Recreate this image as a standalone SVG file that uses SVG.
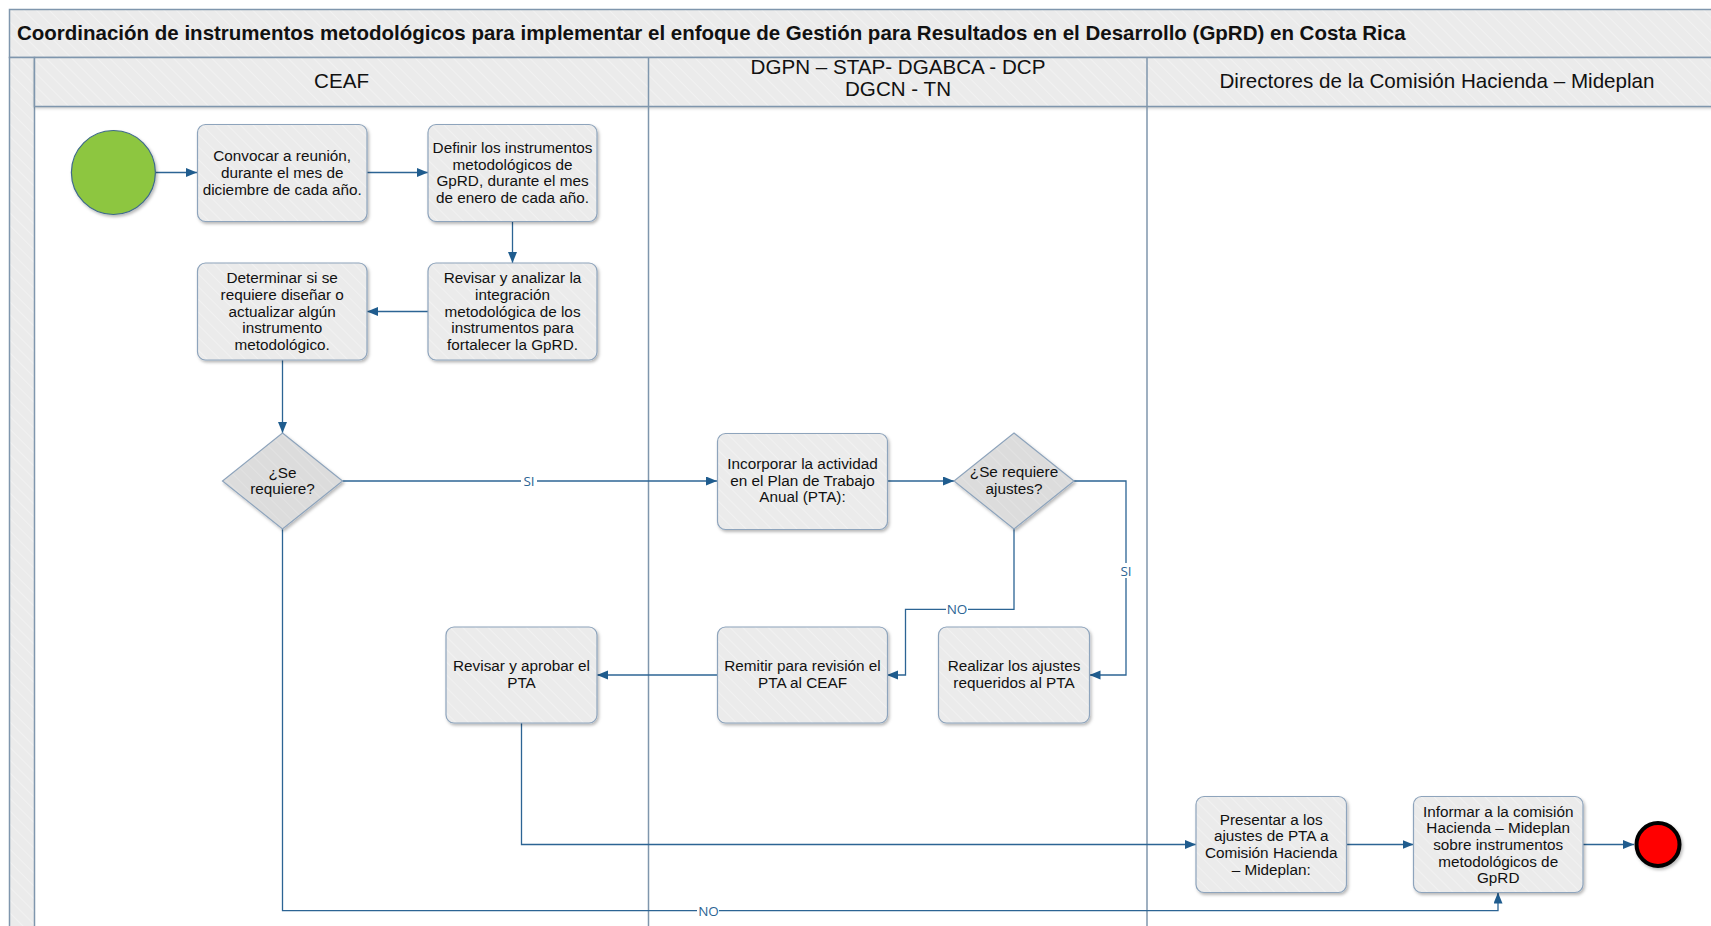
<svg xmlns="http://www.w3.org/2000/svg" width="1711" height="926" viewBox="0 0 1711 926">
<defs>
<pattern id="hatch" width="9" height="9" patternUnits="userSpaceOnUse" patternTransform="rotate(-45)">
<rect width="9" height="9" fill="#EBEBEB"/>
<line x1="0" y1="0" x2="0" y2="9" stroke="#F4F4F4" stroke-width="1.5"/>
</pattern>
<pattern id="hatchD" width="9" height="9" patternUnits="userSpaceOnUse" patternTransform="rotate(-45)">
<rect width="9" height="9" fill="#DCDCDC"/>
<line x1="0" y1="0" x2="0" y2="9" stroke="#E5E5E5" stroke-width="1.5"/>
</pattern>
<filter id="sh" x="-10%" y="-10%" width="130%" height="130%">
<feDropShadow dx="1.5" dy="2" stdDeviation="1.5" flood-color="#000" flood-opacity="0.28"/>
</filter>
<filter id="hsh" x="-5%" y="-20%" width="110%" height="160%">
<feDropShadow dx="0" dy="2" stdDeviation="1.5" flood-color="#000" flood-opacity="0.2"/>
</filter>
<marker id="arr" markerWidth="12" markerHeight="10" refX="11" refY="4.5" orient="auto" markerUnits="userSpaceOnUse">
<path d="M0,0 L11,4.5 L0,9 z" fill="#1F5C8E"/>
</marker>
</defs>
<style>
.pool{fill:url(#hatch);stroke:#7F96AD;stroke-width:1.5}
.lane{fill:none;stroke:#7F96AD;stroke-width:1.5}
.title{font-family:"Liberation Sans",Arial,sans-serif;font-size:20.5px;font-weight:bold;fill:#111}
.lh{font-family:"Liberation Sans",Arial,sans-serif;font-size:20.6px;fill:#111;text-anchor:middle}
.box{fill:url(#hatch);stroke:#8EA4BC;stroke-width:1.2;filter:url(#sh)}
.dia{fill:url(#hatchD);stroke:#8EA4BC;stroke-width:1.2;filter:url(#sh)}
.t{font-family:"Liberation Sans",Arial,sans-serif;font-size:15.3px;fill:#111;text-anchor:middle}
.c{fill:none;stroke:#2C6494;stroke-width:1.3}
.ca{fill:none;stroke:#2C6494;stroke-width:1.3;marker-end:url(#arr)}
.lbl{font-family:"Open Sans","Noto Sans",sans-serif;font-size:13.5px;fill:#2C6494;text-anchor:middle}
.lb{fill:#fff}
</style>
<rect width="1711" height="926" fill="#fff"/>
<g id="pool">
<rect class="pool" x="9.5" y="9.5" width="1720" height="48"/>
<rect class="pool" x="9.5" y="57.5" width="25" height="900"/>
<rect x="34.5" y="57.5" width="1700" height="49" fill="url(#hatch)" filter="url(#hsh)"/>
<rect class="lane" x="34.5" y="57.5" width="1700" height="49"/>
<line class="lane" x1="648.5" y1="57.5" x2="648.5" y2="930"/>
<line class="lane" x1="1147" y1="57.5" x2="1147" y2="930"/>
<text class="title" x="17" y="39.5">Coordinación de instrumentos metodológicos para implementar el enfoque de Gestión para Resultados en el Desarrollo (GpRD) en Costa Rica</text>
<text class="lh" x="341.5" y="88">CEAF</text>
<text class="lh" x="898" y="74">DGPN – STAP- DGABCA - DCP</text>
<text class="lh" x="898" y="96">DGCN - TN</text>
<text class="lh" x="1437" y="88">Directores de la Comisión Hacienda – Mideplan</text>
</g>
<g id="connectors">
<path class="ca" d="M155.5,172.5 H197"/>
<path class="ca" d="M367,172.5 H428"/>
<path class="ca" d="M512.5,221.5 V263"/>
<path class="ca" d="M428,311.5 H367"/>
<path class="ca" d="M282.5,360 V433"/>
<path class="ca" d="M342.5,481 H717"/>
<path class="ca" d="M887,481 H954"/>
<path class="ca" d="M1074,481 H1126 V675 H1089.5"/>
<path class="ca" d="M1014,529 V609.3 H905.5 V675 H887"/>
<path class="ca" d="M717,675 H597"/>
<path class="ca" d="M521.5,723 V844.5 H1196"/>
<path class="ca" d="M1346.5,844.5 H1413.5"/>
<path class="ca" d="M1583,844.5 H1634"/>
<path class="ca" d="M282.5,529 V910.7 H1498 V892.5"/>
<rect class="lb" x="521" y="474" width="16" height="14"/>
<text class="lbl" x="529" y="486">SI</text>
<rect class="lb" x="1118" y="563" width="16" height="15"/>
<text class="lbl" x="1126" y="576">SI</text>
<rect class="lb" x="946" y="602" width="22" height="14"/>
<text class="lbl" x="957" y="614.3">NO</text>
<rect class="lb" x="697" y="904" width="22" height="14"/>
<text class="lbl" x="708.5" y="915.7">NO</text>
</g>
<g id="start">
<circle cx="113.4" cy="172.5" r="42" fill="#8DC641" stroke="#3F6A8A" stroke-width="1.2" filter="url(#sh)"/>
</g>
<g id="n1">
<rect class="box" x="197.5" y="124.5" width="169.5" height="97" rx="8"/>
<text class="t" x="282.2" y="161.2">Convocar a reunión,</text>
<text class="t" x="282.2" y="177.9">durante el mes de</text>
<text class="t" x="282.2" y="194.6">diciembre de cada año.</text>
</g>
<g id="n2">
<rect class="box" x="428" y="124.5" width="169" height="97" rx="8"/>
<text class="t" x="512.5" y="152.8">Definir los instrumentos</text>
<text class="t" x="512.5" y="169.5">metodológicos de</text>
<text class="t" x="512.5" y="186.2">GpRD, durante el mes</text>
<text class="t" x="512.5" y="202.9">de enero de cada año.</text>
</g>
<g id="n3">
<rect class="box" x="428" y="263" width="169" height="97" rx="8"/>
<text class="t" x="512.5" y="283.3">Revisar y analizar la</text>
<text class="t" x="512.5" y="300">integración</text>
<text class="t" x="512.5" y="316.7">metodológica de los</text>
<text class="t" x="512.5" y="333.4">instrumentos para</text>
<text class="t" x="512.5" y="350.1">fortalecer la GpRD.</text>
</g>
<g id="n4">
<rect class="box" x="197.5" y="263" width="169.5" height="97" rx="8"/>
<text class="t" x="282.2" y="283.3">Determinar si se</text>
<text class="t" x="282.2" y="300">requiere diseñar o</text>
<text class="t" x="282.2" y="316.7">actualizar algún</text>
<text class="t" x="282.2" y="333.4">instrumento</text>
<text class="t" x="282.2" y="350.1">metodológico.</text>
</g>
<g id="d1">
<polygon class="dia" points="282.5,433 342.5,481 282.5,529 222.5,481"/>
<text class="t" x="282.5" y="477.5">¿Se</text>
<text class="t" x="282.5" y="494">requiere?</text>
</g>
<g id="n5">
<rect class="box" x="717.5" y="433.5" width="170" height="96" rx="8"/>
<text class="t" x="802.5" y="468.8">Incorporar la actividad</text>
<text class="t" x="802.5" y="485.5">en el Plan de Trabajo</text>
<text class="t" x="802.5" y="502.2">Anual (PTA):</text>
</g>
<g id="d2">
<polygon class="dia" points="1014,433 1074,481 1014,529 954,481"/>
<text class="t" x="1014" y="477">¿Se requiere</text>
<text class="t" x="1014" y="494">ajustes?</text>
</g>
<g id="n6">
<rect class="box" x="938.5" y="627" width="151" height="96" rx="8"/>
<text class="t" x="1014" y="671">Realizar los ajustes</text>
<text class="t" x="1014" y="687.7">requeridos al PTA</text>
</g>
<g id="n7">
<rect class="box" x="717.5" y="627" width="170" height="96" rx="8"/>
<text class="t" x="802.5" y="671">Remitir para revisión el</text>
<text class="t" x="802.5" y="687.7">PTA al CEAF</text>
</g>
<g id="n8">
<rect class="box" x="446" y="627" width="151" height="96" rx="8"/>
<text class="t" x="521.5" y="671">Revisar y aprobar el</text>
<text class="t" x="521.5" y="687.7">PTA</text>
</g>
<g id="n9">
<rect class="box" x="1196" y="796.5" width="150.5" height="96" rx="8"/>
<text class="t" x="1271.2" y="824.5">Presentar a los</text>
<text class="t" x="1271.2" y="841.2">ajustes de PTA a</text>
<text class="t" x="1271.2" y="857.9">Comisión Hacienda</text>
<text class="t" x="1271.2" y="874.6">– Mideplan:</text>
</g>
<g id="n10">
<rect class="box" x="1413.5" y="796.5" width="169.5" height="96" rx="8"/>
<text class="t" x="1498.2" y="816.5">Informar a la comisión</text>
<text class="t" x="1498.2" y="833.2">Hacienda – Mideplan</text>
<text class="t" x="1498.2" y="849.9">sobre instrumentos</text>
<text class="t" x="1498.2" y="866.6">metodológicos de</text>
<text class="t" x="1498.2" y="883.3">GpRD</text>
</g>
<g id="end">
<circle cx="1658" cy="844.5" r="21.5" fill="#FF0000" stroke="#000" stroke-width="4" filter="url(#sh)"/>
</g>
</svg>
